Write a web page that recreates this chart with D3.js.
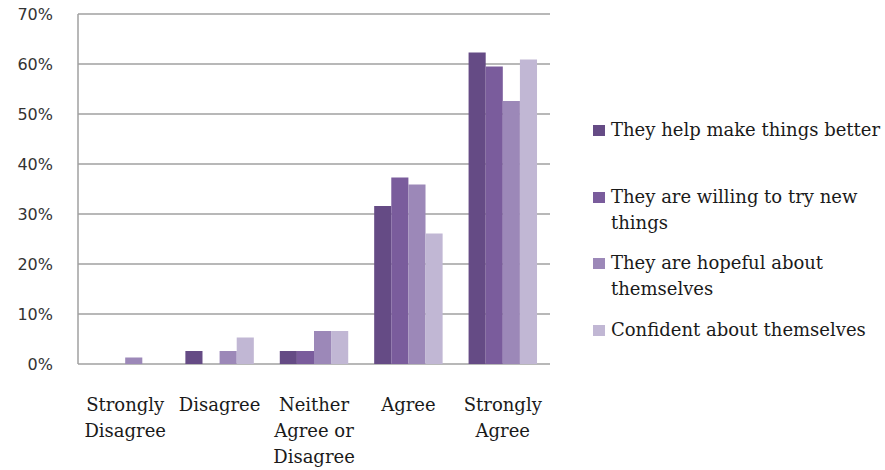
<!DOCTYPE html>
<html><head><meta charset="utf-8">
<script src="https://cdn.jsdelivr.net/npm/d3@7"></script>
<style>body{margin:0;background:#fff}svg{display:block}</style>
</head><body>
<script>
const categories = [["Strongly","Disagree"],["Disagree"],["Neither","Agree or","Disagree"],["Agree"],["Strongly","Agree"]];
const seriesNames = [["They help make things better"],["They are willing to try new","things"],["They are hopeful about","themselves"],["Confident about themselves"]];
const helpBetter = [0, 2.6, 2.6, 31.6, 62.3];
const willingNew = [0, 0, 2.6, 37.3, 59.5];
const hopeful = [1.3, 2.6, 6.6, 35.9, 52.6];
const confident = [0, 5.3, 6.6, 26.1, 60.9];
const yTicks = [0,10,20,30,40,50,60,70];
const colors = ["#654b85","#7a5c9c","#9c88b8","#c1b7d4"];
const series = [helpBetter, willingNew, hopeful, confident];

const W=885,H=470;
const svg=d3.select("body").append("svg").attr("width",W).attr("height",H);
const x0=d3.scaleBand().domain(d3.range(categories.length)).range([78,550]).paddingInner(0.275).paddingOuter(0.1375);
const x1=d3.scaleBand().domain(d3.range(series.length)).range([0,x0.bandwidth()]);
const y=d3.scaleLinear().domain([0,70]).range([364,14]);

const grid=svg.append("g");
grid.selectAll("line").data(yTicks).join("line")
 .attr("x1",78).attr("x2",550).attr("y1",d=>y(d)).attr("y2",d=>y(d))
 .attr("stroke","#a0a0a0").attr("stroke-width",1.5);
svg.append("line").attr("x1",78).attr("x2",78).attr("y1",14).attr("y2",364).attr("stroke","#a0a0a0").attr("stroke-width",1.5);

const yAxis=svg.append("g").attr("transform","translate(78,0)")
 .call(d3.axisLeft(y).tickValues(yTicks).tickFormat(d=>d+"%").tickSize(0).tickPadding(25));
yAxis.select(".domain").remove();
yAxis.selectAll("text").attr("font-family","'DejaVu Sans', Verdana, sans-serif").attr("font-size",16).attr("fill","#333");

series.forEach((s,si)=>{
  svg.append("g").selectAll("rect").data(s).join("rect")
   .attr("x",(d,i)=>x0(i)+x1(si)).attr("width",x1.bandwidth())
   .attr("y",d=>y(d)).attr("height",d=>y(0)-y(d)).attr("fill",colors[si]);
});

const cat=svg.append("g");
categories.forEach((lines,i)=>{
  const t=cat.append("text").attr("x",x0(i)+x0.bandwidth()/2).attr("y",411).attr("text-anchor","middle")
   .attr("font-family","'DejaVu Serif', serif").attr("font-size",18).attr("fill","#1a1a1a");
  lines.forEach((l,j)=>t.append("tspan").attr("x",x0(i)+x0.bandwidth()/2).attr("dy",j?26:0).text(l));
});

const legY=[130,197,263,330];
const leg=svg.append("g");
seriesNames.forEach((lines,i)=>{
  leg.append("rect").attr("x",593).attr("y",legY[i]-5).attr("width",12).attr("height",11).attr("fill",colors[i]);
  const t=leg.append("text").attr("x",611).attr("y",legY[i]+6)
   .attr("font-family","'DejaVu Serif', serif").attr("font-size",18).attr("fill","#1a1a1a");
  lines.forEach((l,j)=>t.append("tspan").attr("x",611).attr("dy",j?26:0).text(l));
});
</script>
</body></html>
